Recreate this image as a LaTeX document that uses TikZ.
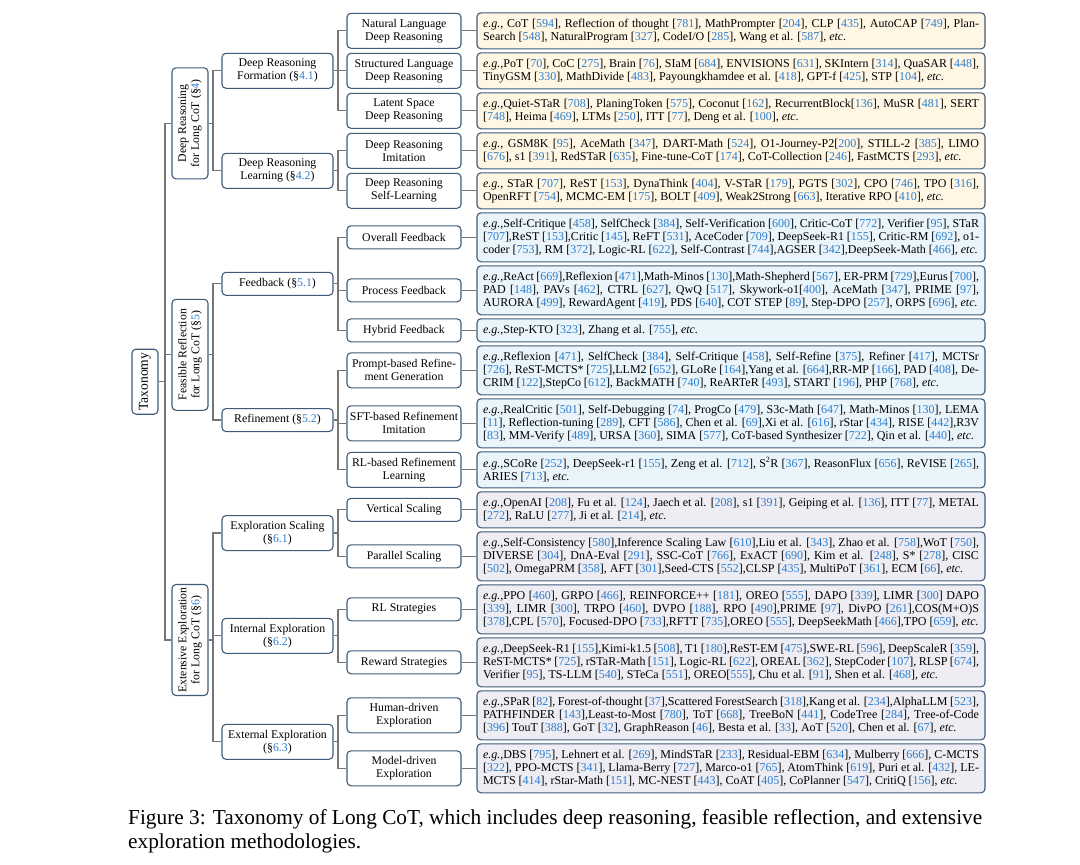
\documentclass[tikz,border=0pt]{standalone}
\usepackage{fontspec}
\setmainfont{Liberation Serif}
\usepackage{xcolor}
\definecolor{bordc}{RGB}{62,92,122}
\definecolor{connc}{RGB}{118,118,118}
\definecolor{citec}{RGB}{45,125,205}
\definecolor{fillA}{RGB}{255,246,228}
\definecolor{fillB}{RGB}{233,244,251}
\definecolor{fillC}{RGB}{237,237,243}
\newcommand\ci[1]{[\textcolor{citec}{#1}]}
\newcommand\sect[1]{(\S\textcolor{citec}{#1})}
\newcommand\eg{\textit{e.g.},}
\newcommand\etcx{\textit{etc.}}
\newlength\leafw
\setlength\leafw{496pt}
\newcommand\jl[1]{\hbox to\leafw{#1}}
\newcommand\lastl[1]{\hbox to\leafw{#1\hfil}}
\newcommand\fsz{\fontsize{11.8}{13}\selectfont\lineskiplimit=-20pt\lineskip=0pt}
\newcommand\lfsz{\fontsize{12}{13}\selectfont\lineskiplimit=-20pt\lineskip=0pt}
\tikzset{
  box/.style={draw=bordc, line width=1.1pt, rounded corners=4pt, fill=white, align=center, inner sep=1.5pt, font=\fsz},
  lone/.style={box, rotate=90, minimum width=111pt, minimum height=36pt},
  ltwo/.style={box, minimum width=111pt},
  lthree/.style={box, minimum width=114pt},
  leaf/.style={draw=bordc, line width=1.1pt, rounded corners=4pt, inner xsep=6pt, inner ysep=0pt, font=\lfsz},
  hA/.style={minimum height=23pt},
  hB/.style={minimum height=35pt},
  fA/.style={minimum height=23pt},
  fB/.style={minimum height=36pt},
  fC/.style={minimum height=49pt},
  conn/.style={draw=connc, line width=1.2pt},
  capt/.style={font=\fontsize{21.3}{24}\selectfont, anchor=base west, inner sep=0pt}
}
\begin{document}
\begin{tikzpicture}[x=1pt,y=-1pt]
\useasboundingbox (0,0) rectangle (1080,865);
% root and level 1
\node[box, rotate=90, minimum width=65pt, minimum height=26pt, font=\fontsize{13.6}{15}\selectfont] (root) at (145,381.7) {Taxonomy};
\node[lone] (dr) at (190,123.3) {Deep Reasoning\\for Long CoT \sect{4}};
\node[lone] (fr) at (190,354.8) {Feasible Reflection\\for Long CoT \sect{5}};
\node[lone] (ee) at (190,640) {Extensive Exploration\\for Long CoT \sect{6}};
% level 2
\node[ltwo,hB] (drf) at (277.5,70.8) {Deep Reasoning\\Formation \sect{4.1}};
\node[ltwo,hB] (drl) at (277.5,170.8) {Deep Reasoning\\Learning \sect{4.2}};
\node[ltwo,hA] (fb) at (277.5,283.8) {Feedback \sect{5.1}};
\node[ltwo,hA] (rf) at (277.5,420.05) {Refinement \sect{5.2}};
\node[ltwo,hB] (es) at (277.5,533.05) {Exploration Scaling\\\sect{6.1}};
\node[ltwo,hB] (ie) at (277.5,635.8) {Internal Exploration\\\sect{6.2}};
\node[ltwo,hB] (xe) at (277.5,741.8) {External Exploration\\\sect{6.3}};
% level 3
\node[lthree,hB] (m1) at (404,30.8) {Natural Language\\Deep Reasoning};
\node[lthree,hB] (m2) at (404,70.8) {Structured Language\\Deep Reasoning};
\node[lthree,hB] (m3) at (404,110.8) {Latent Space\\Deep Reasoning};
\node[lthree,hB] (m4) at (404,150.8) {Deep Reasoning\\Imitation};
\node[lthree,hB] (m5) at (404,190.8) {Deep Reasoning\\Self-Learning};
\node[lthree,hA] (m6) at (404,237.3) {Overall Feedback};
\node[lthree,hA] (m7) at (404,290.3) {Process Feedback};
\node[lthree,hA] (m8) at (404,330.3) {Hybrid Feedback};
\node[lthree,hB] (m9) at (404,370.3) {Prompt-based Refine-\\ment Generation};
\node[lthree,hB] (m10) at (404,423.3) {SFT-based Refinement\\Imitation};
\node[lthree,hB] (m11) at (404,469.8) {RL-based Refinement\\Learning};
\node[lthree,hA] (m12) at (404,509.8) {Vertical Scaling};
\node[lthree,hA] (m13) at (404,556.3) {Parallel Scaling};
\node[lthree,hA] (m14) at (404,609.3) {RL Strategies};
\node[lthree,hA] (m15) at (404,662.3) {Reward Strategies};
\node[lthree,hB] (m16) at (404,715.3) {Human-driven\\Exploration};
\node[lthree,hB] (m17) at (404,768.3) {Model-driven\\Exploration};
% leaves
\node[leaf,fB,fill=fillA] (f1) at (731,30.8) {\vbox{\jl{\eg{} CoT \ci{594}, Reflection of thought \ci{781}, MathPrompter \ci{204}, CLP \ci{435}, AutoCAP \ci{749}, Plan-}\lastl{Search \ci{548}, NaturalProgram \ci{327}, CodeI/O \ci{285}, Wang et al. \ci{587}, \etcx}}};
\node[leaf,fB,fill=fillA] (f2) at (731,70.8) {\vbox{\jl{\eg PoT \ci{70}, CoC \ci{275}, Brain \ci{76}, SIaM \ci{684}, ENVISIONS \ci{631}, SKIntern \ci{314}, QuaSAR \ci{448},}\lastl{TinyGSM \ci{330}, MathDivide \ci{483}, Payoungkhamdee et al. \ci{418}, GPT-f \ci{425}, STP \ci{104}, \etcx}}};
\node[leaf,fB,fill=fillA] (f3) at (731,110.8) {\vbox{\jl{\eg Quiet-STaR \ci{708}, PlaningToken \ci{575}, Coconut \ci{162}, RecurrentBlock\ci{136}, MuSR \ci{481}, SERT}\lastl{\ci{748}, Heima \ci{469}, LTMs \ci{250}, ITT \ci{77}, Deng et al. \ci{100}, \etcx}}};
\node[leaf,fB,fill=fillA] (f4) at (731,150.8) {\vbox{\jl{\eg{} GSM8K \ci{95}, AceMath \ci{347}, DART-Math \ci{524}, O1-Journey-P2\ci{200}, STILL-2 \ci{385}, LIMO}\lastl{\ci{676}, s1 \ci{391}, RedSTaR \ci{635}, Fine-tune-CoT \ci{174}, CoT-Collection \ci{246}, FastMCTS \ci{293}, \etcx}}};
\node[leaf,fB,fill=fillA] (f5) at (731,190.8) {\vbox{\jl{\eg{} STaR \ci{707}, ReST \ci{153}, DynaThink \ci{404}, V-STaR \ci{179}, PGTS \ci{302}, CPO \ci{746}, TPO \ci{316},}\lastl{OpenRFT \ci{754}, MCMC-EM \ci{175}, BOLT \ci{409}, Weak2Strong \ci{663}, Iterative RPO \ci{410}, \etcx}}};
\node[leaf,fC,fill=fillB] (f6) at (731,237.3) {\vbox{\jl{\eg Self-Critique \ci{458}, SelfCheck \ci{384}, Self-Verification \ci{600}, Critic-CoT \ci{772}, Verifier \ci{95}, STaR}\jl{\ci{707},ReST \ci{153},Critic \ci{145}, ReFT \ci{531}, AceCoder \ci{709}, DeepSeek-R1 \ci{155}, Critic-RM \ci{692}, o1-}\lastl{coder \ci{753}, RM \ci{372}, Logic-RL \ci{622}, Self-Contrast \ci{744},AGSER \ci{342},DeepSeek-Math \ci{466}, \etcx}}};
\node[leaf,fC,fill=fillB] (f7) at (731,290.3) {\vbox{\jl{\eg ReAct \ci{669},Reflexion \ci{471},Math-Minos \ci{130},Math-Shepherd \ci{567}, ER-PRM \ci{729},Eurus \ci{700},}\jl{PAD \ci{148}, PAVs \ci{462}, CTRL \ci{627}, QwQ \ci{517}, Skywork-o1\ci{400}, AceMath \ci{347}, PRIME \ci{97},}\lastl{AURORA \ci{499}, RewardAgent \ci{419}, PDS \ci{640}, COT STEP \ci{89}, Step-DPO \ci{257}, ORPS \ci{696}, \etcx}}};
\node[leaf,fA,fill=fillB] (f8) at (731,330.3) {\vbox{\lastl{\eg Step-KTO \ci{323}, Zhang et al. \ci{755}, \etcx}}};
\node[leaf,fC,fill=fillB] (f9) at (731,370.3) {\vbox{\jl{\eg Reflexion \ci{471}, SelfCheck \ci{384}, Self-Critique \ci{458}, Self-Refine \ci{375}, Refiner \ci{417}, MCTSr}\jl{\ci{726}, ReST-MCTS* \ci{725},LLM2 \ci{652}, GLoRe \ci{164},Yang et al. \ci{664},RR-MP \ci{166}, PAD \ci{408}, De-}\lastl{CRIM \ci{122},StepCo \ci{612}, BackMATH \ci{740}, ReARTeR \ci{493}, START \ci{196}, PHP \ci{768}, \etcx}}};
\node[leaf,fC,fill=fillB] (f10) at (731,423.3) {\vbox{\jl{\eg RealCritic \ci{501}, Self-Debugging \ci{74}, ProgCo \ci{479}, S3c-Math \ci{647}, Math-Minos \ci{130}, LEMA}\jl{\ci{11}, Reflection-tuning \ci{289}, CFT \ci{586}, Chen et al. \ci{69},Xi et al. \ci{616}, rStar \ci{434}, RISE \ci{442},R3V}\lastl{\ci{83}, MM-Verify \ci{489}, URSA \ci{360}, SIMA \ci{577}, CoT-based Synthesizer \ci{722}, Qin et al. \ci{440}, \etcx}}};
\node[leaf,fB,fill=fillB] (f11) at (731,469.8) {\vbox{\jl{\eg SCoRe \ci{252}, DeepSeek-r1 \ci{155}, Zeng et al. \ci{712}, S\textsuperscript{2}R \ci{367}, ReasonFlux \ci{656}, ReVISE \ci{265},}\lastl{ARIES \ci{713}, \etcx}}};
\node[leaf,fB,fill=fillC] (f12) at (731,509.8) {\vbox{\jl{\eg OpenAI \ci{208}, Fu et al. \ci{124}, Jaech et al. \ci{208}, s1 \ci{391}, Geiping et al. \ci{136}, ITT \ci{77}, METAL}\lastl{\ci{272}, RaLU \ci{277}, Ji et al. \ci{214}, \etcx}}};
\node[leaf,fC,fill=fillC] (f13) at (731,556.3) {\vbox{\jl{\eg Self-Consistency \ci{580},Inference Scaling Law \ci{610},Liu et al. \ci{343}, Zhao et al. \ci{758},WoT \ci{750},}\jl{DIVERSE \ci{304}, DnA-Eval \ci{291}, SSC-CoT \ci{766}, ExACT \ci{690}, Kim et al. \ci{248}, S* \ci{278}, CISC}\lastl{\ci{502}, OmegaPRM \ci{358}, AFT \ci{301},Seed-CTS \ci{552},CLSP \ci{435}, MultiPoT \ci{361}, ECM \ci{66}, \etcx}}};
\node[leaf,fC,fill=fillC] (f14) at (731,609.3) {\vbox{\jl{\eg PPO \ci{460}, GRPO \ci{466}, REINFORCE++ \ci{181}, OREO \ci{555}, DAPO \ci{339}, LIMR \ci{300} DAPO}\jl{\ci{339}, LIMR \ci{300}, TRPO \ci{460}, DVPO \ci{188}, RPO \ci{490},PRIME \ci{97}, DivPO \ci{261},COS(M+O)S}\lastl{\ci{378},CPL \ci{570}, Focused-DPO \ci{733},RFTT \ci{735},OREO \ci{555}, DeepSeekMath \ci{466},TPO \ci{659}, \etcx}}};
\node[leaf,fC,fill=fillC] (f15) at (731,662.3) {\vbox{\jl{\eg DeepSeek-R1 \ci{155},Kimi-k1.5 \ci{508}, T1 \ci{180},ReST-EM \ci{475},SWE-RL \ci{596}, DeepScaleR \ci{359},}\jl{ReST-MCTS* \ci{725}, rSTaR-Math \ci{151}, Logic-RL \ci{622}, OREAL \ci{362}, StepCoder \ci{107}, RLSP \ci{674},}\lastl{Verifier \ci{95}, TS-LLM \ci{540}, STeCa \ci{551}, OREO\ci{555}, Chu et al. \ci{91}, Shen et al. \ci{468}, \etcx}}};
\node[leaf,fC,fill=fillC] (f16) at (731,715.3) {\vbox{\jl{\eg SPaR \ci{82}, Forest-of-thought \ci{37},Scattered ForestSearch \ci{318},Kang et al. \ci{234},AlphaLLM \ci{523},}\jl{PATHFINDER \ci{143},Least-to-Most \ci{780}, ToT \ci{668}, TreeBoN \ci{441}, CodeTree \ci{284}, Tree-of-Code}\lastl{\ci{396} TouT \ci{388}, GoT \ci{32}, GraphReason \ci{46}, Besta et al. \ci{33}, AoT \ci{520}, Chen et al. \ci{67}, \etcx}}};
\node[leaf,fC,fill=fillC] (f17) at (731,768.3) {\vbox{\jl{\eg DBS \ci{795}, Lehnert et al. \ci{269}, MindSTaR \ci{233}, Residual-EBM \ci{634}, Mulberry \ci{666}, C-MCTS}\jl{\ci{322}, PPO-MCTS \ci{341}, Llama-Berry \ci{727}, Marco-o1 \ci{765}, AtomThink \ci{619}, Puri et al. \ci{432}, LE-}\lastl{MCTS \ci{414}, rStar-Math \ci{151}, MC-NEST \ci{443}, CoAT \ci{405}, CoPlanner \ci{547}, CritiQ \ci{156}, \etcx}}};
% junction coordinates
\coordinate (t0) at (165,381.7);
\coordinate (b1) at (213,123.3);
\coordinate (b2) at (213,354.8);
\coordinate (b3) at (213,640);
\coordinate (c1) at (338,70.8);
\coordinate (c2) at (338,170.8);
\coordinate (c3) at (338,283.8);
\coordinate (c4) at (338,420.05);
\coordinate (c5) at (338,533.05);
\coordinate (c6) at (338,635.8);
\coordinate (c7) at (338,741.8);
% connectors: root to level 1
\draw[conn] (root.south) -- (t0);
\draw[conn] (dr.north) -| (t0);
\draw[conn] (ee.north) -| (t0);
\draw[conn] (fr.north) -- (fr.north -| t0);
% level 1 to level 2
\draw[conn] (dr.south) -- (b1);
\draw[conn] (drf.west) -| (b1);
\draw[conn] (drl.west) -| (b1);
\draw[conn] (fr.south) -- (b2);
\draw[conn] (fb.west) -| (b2);
\draw[conn] (rf.west) -| (b2);
\draw[conn] (ee.south) -- (b3);
\draw[conn] (es.west) -| (b3);
\draw[conn] (ie.west) -| (b3);
\draw[conn] (xe.west) -| (b3);
% level 2 to level 3
\draw[conn] (drf.east) -- (c1);
\draw[conn] (m1.west) -| (c1);
\draw[conn] (m2.west) -| (c1);
\draw[conn] (m3.west) -| (c1);
\draw[conn] (drl.east) -- (c2);
\draw[conn] (m4.west) -| (c2);
\draw[conn] (m5.west) -| (c2);
\draw[conn] (fb.east) -- (c3);
\draw[conn] (m6.west) -| (c3);
\draw[conn] (m7.west) -| (c3);
\draw[conn] (m8.west) -| (c3);
\draw[conn] (rf.east) -- (c4);
\draw[conn] (m9.west) -| (c4);
\draw[conn] (m10.west) -| (c4);
\draw[conn] (m11.west) -| (c4);
\draw[conn] (es.east) -- (c5);
\draw[conn] (m12.west) -| (c5);
\draw[conn] (m13.west) -| (c5);
\draw[conn] (ie.east) -- (c6);
\draw[conn] (m14.west) -| (c6);
\draw[conn] (m15.west) -| (c6);
\draw[conn] (xe.east) -- (c7);
\draw[conn] (m16.west) -| (c7);
\draw[conn] (m17.west) -| (c7);
% level 3 to leaves
\foreach \i in {1,...,17}{\draw[conn] (m\i.east) -- (f\i.west);}
% caption
\node[capt] (cap1) at (128,824) {Figure 3: Taxonomy of Long CoT, which includes deep reasoning, feasible reflection, and extensive};
\node[capt] (cap2) at (128,848) {exploration methodologies.};
\end{tikzpicture}
\end{document}
